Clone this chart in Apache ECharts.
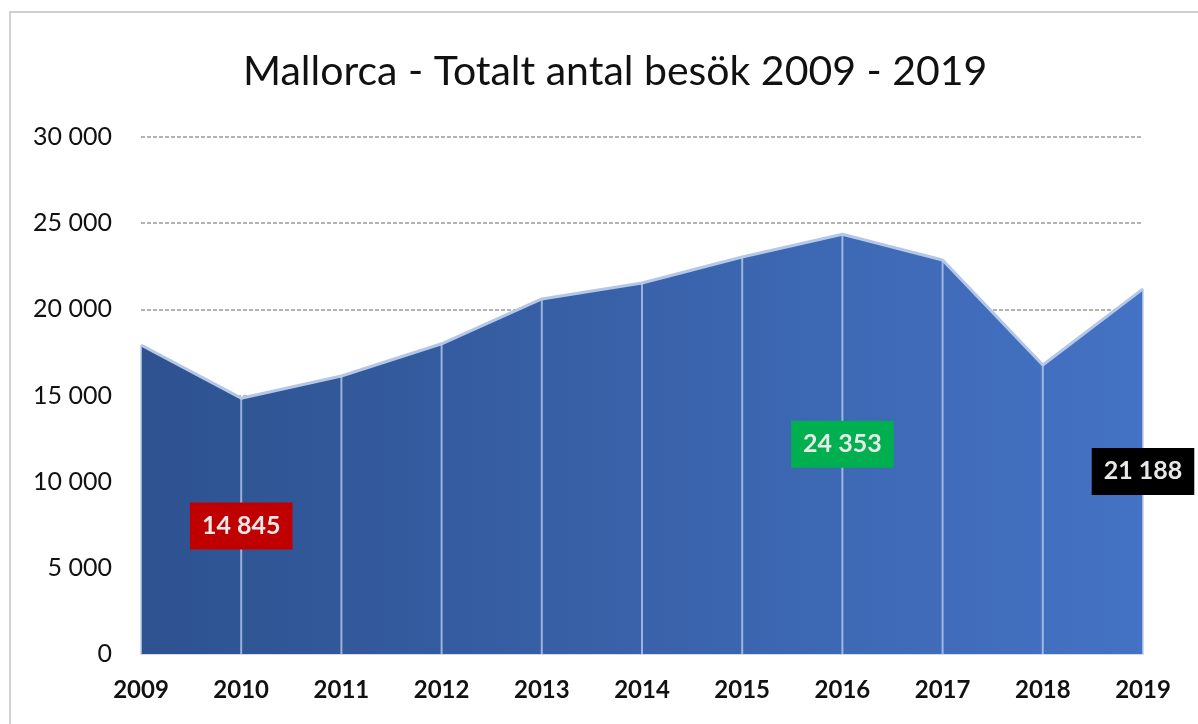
<!DOCTYPE html>
<html>
<head>
<meta charset="utf-8">
<script src="https://cdn.jsdelivr.net/npm/echarts@6/dist/echarts.min.js"></script>
<style>
  body { margin: 0; background: #fff; }
  #chart { width: 1198px; height: 724px; }
</style>
</head>
<body>
<div id="chart"></div>
<script>
// år och besök
const years = ['2009', '2010', '2011', '2012', '2013', '2014', '2015', '2016', '2017', '2018', '2019'];
const visits = [17930, 14845, 16130, 18000, 20600, 21530, 23040, 24353, 22860, 16770, 21188];
// utmärkta värden: år -> bakgrundsfärg
const highlight = { '2010': '#c00000', '2016': '#00b050', '2019': '#000000' };

var chartDom = document.getElementById('chart');
var myChart = echarts.init(chartDom);
var option;

// tunna staplar = lodlinjer, med etiketter för utmärkta år
var dropData = visits.map(function (v, i) {
    var bg = highlight[years[i]];
    if (!bg) return v;
    return {
        value: v,
        label: {
            show: true,
            position: 'inside',
            formatter: function (p) { return fmt(p.value); },
            backgroundColor: bg,
            color: '#e8e8e8',
            fontWeight: 'bold',
            fontSize: 25,
            fontFamily: 'Lato, "Open Sans", sans-serif',
            padding: [11, 12, 11, 12]
        }
    };
});

function fmt(v) {
    return String(v).replace(/\B(?=(\d{3})+(?!\d))/g, ' ');
}

option = {
    animation: false,
    title: {
        text: 'Mallorca - Totalt antal besök 2009 - 2019',
        left: 238,
        top: 46,
        textStyle: {
            fontFamily: 'Lato, "Open Sans", sans-serif',
            fontWeight: 'normal',
            fontSize: 41,
            color: '#111'
        }
    },
    graphic: [
        {
            type: 'rect',
            shape: { x: 10, y: 12, width: 1220, height: 740 },
            style: { fill: 'none', stroke: '#d0d0d0', lineWidth: 2 },
            silent: true
        }
    ],
    grid: {
        left: 141,
        right: 55,
        top: 137,
        bottom: 70
    },
    xAxis: {
        type: 'category',
        boundaryGap: false,
        data: years,
        axisTick: { show: false },
        axisLine: { lineStyle: { color: '#d9d9d9', width: 2 } },
        axisLabel: {
            margin: 24,
            color: '#111',
            fontWeight: 'bold',
            fontSize: 24,
            fontFamily: 'Lato, "Open Sans", sans-serif'
        },
        splitLine: { show: false }
    },
    yAxis: {
        type: 'value',
        min: 0,
        max: 30000,
        interval: 5000,
        axisLine: { show: false },
        axisTick: { show: false },
        axisLabel: {
            margin: 29,
            color: '#111',
            fontSize: 25,
            fontFamily: 'Lato, "Open Sans", sans-serif',
            formatter: function (v) { return fmt(v); }
        },
        splitLine: {
            lineStyle: { color: '#9a9a9a', type: [4, 2], width: 1.5 }
        }
    },
    series: [
        {
            type: 'line',
            data: visits,
            symbol: 'none',
            z: 2,
            lineStyle: { color: '#b4c7e7', width: 3 },
            areaStyle: {
                opacity: 1,
                color: new echarts.graphic.LinearGradient(0, 0, 1, 0, [
                    { offset: 0, color: '#2e5290' },
                    { offset: 1, color: '#4472c4' }
                ])
            }
        },
        {
            type: 'bar',
            data: dropData,
            barWidth: 2,
            z: 3,
            itemStyle: { color: 'rgba(190, 208, 238, 0.75)' },
            label: { show: false }
        }
    ]
};

option && myChart.setOption(option);
</script>
</body>
</html>
